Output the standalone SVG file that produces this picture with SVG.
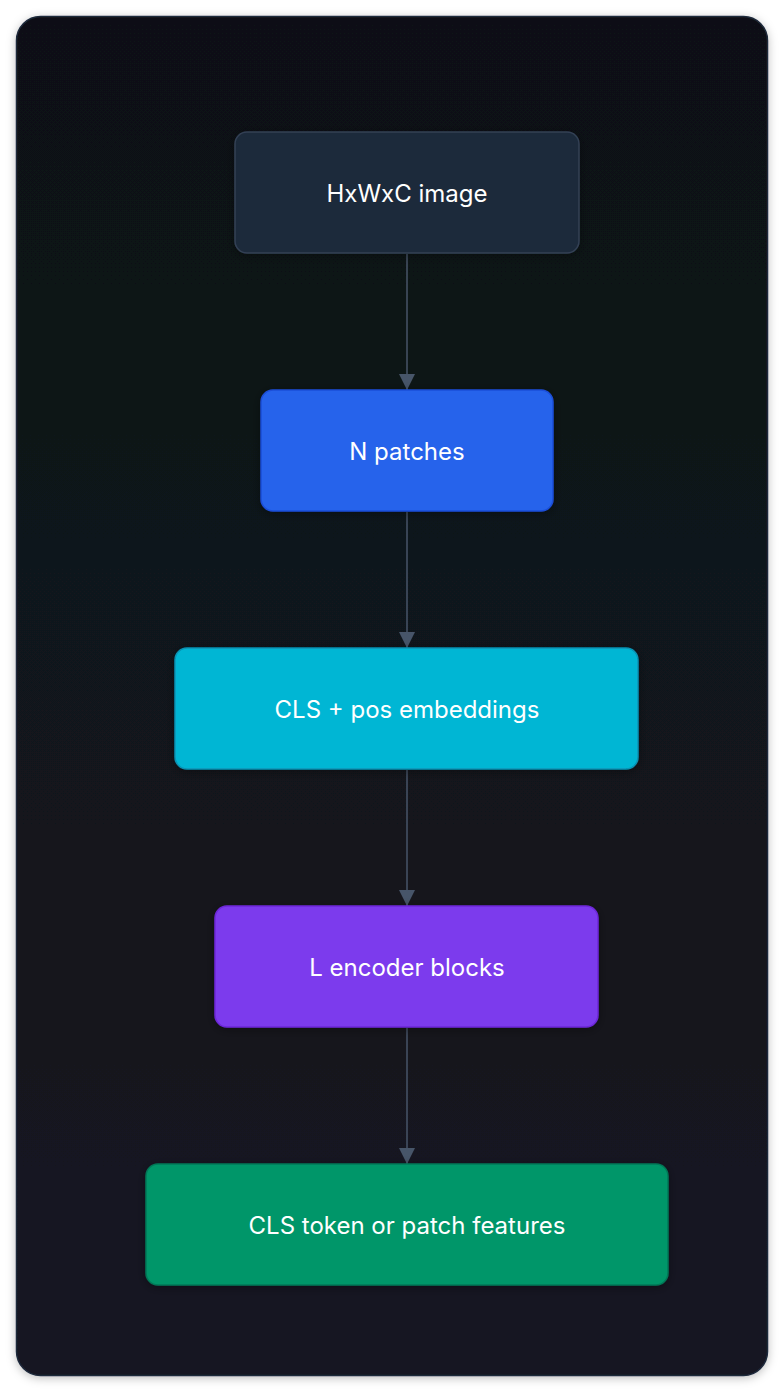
<svg xmlns="http://www.w3.org/2000/svg" width="784" height="1392" viewBox="0 0 784 1392">
<defs>
<linearGradient id="bg" x1="0" y1="0" x2="0" y2="1"><stop offset="0" stop-color="#0f1115"/><stop offset="1" stop-color="#141622"/></linearGradient>
<filter id="sh" x="-10%" y="-10%" width="120%" height="120%"><feDropShadow dx="0" dy="2" stdDeviation="5" flood-color="#000" flood-opacity="0.35"/></filter>
<filter id="csh" x="-5%" y="-5%" width="110%" height="110%"><feDropShadow dx="0" dy="2" stdDeviation="5" flood-color="#000" flood-opacity="0.25"/></filter>
<marker id="ah" markerWidth="16" markerHeight="16" refX="16" refY="8" orient="auto" markerUnits="userSpaceOnUse"><path d="M0,0 L16,8 L0,16 Z" fill="#475569"/></marker>
</defs>
<style>
.n{stroke-width:1.5;filter:url(#sh)}
.t{font-family:Inter,"Liberation Sans",sans-serif;font-size:24px;fill:#ffffff;text-anchor:middle;dominant-baseline:central}
.e{stroke:#475569;stroke-width:1.5;fill:none;marker-end:url(#ah)}
</style>
<rect width="784" height="1392" fill="#ffffff"/>
<rect x="16.5" y="16.5" width="751" height="1359" rx="24" fill="url(#bg)" stroke="#1e293b" stroke-width="1.5" filter="url(#csh)"/>
<g id="connectors">
<line class="e" x1="407" y1="254" x2="407" y2="390"/>
<line class="e" x1="407" y1="512" x2="407" y2="648"/>
<line class="e" x1="407" y1="770" x2="407" y2="906"/>
<line class="e" x1="407" y1="1028" x2="407" y2="1164"/>
</g>
<g id="n1"><rect class="n" x="235" y="132" width="344" height="121" rx="12" fill="#1e293b" stroke="#334155"/><text class="t" x="407" y="193">HxWxC image</text></g>
<g id="n2"><rect class="n" x="261" y="390" width="292" height="121" rx="12" fill="#2563eb" stroke="#1d4ed8"/><text class="t" x="407" y="451">N patches</text></g>
<g id="n3"><rect class="n" x="175" y="648" width="463" height="121" rx="12" fill="#06b6d4" stroke="#0891b2"/><text class="t" x="407" y="709">CLS + pos embeddings</text></g>
<g id="n4"><rect class="n" x="215" y="906" width="383" height="121" rx="12" fill="#7c3aed" stroke="#6d28d9"/><text class="t" x="407" y="967">L encoder blocks</text></g>
<g id="n5"><rect class="n" x="146" y="1164" width="522" height="121" rx="12" fill="#059669" stroke="#047857"/><text class="t" x="407" y="1225">CLS token or patch features</text></g>
</svg>
